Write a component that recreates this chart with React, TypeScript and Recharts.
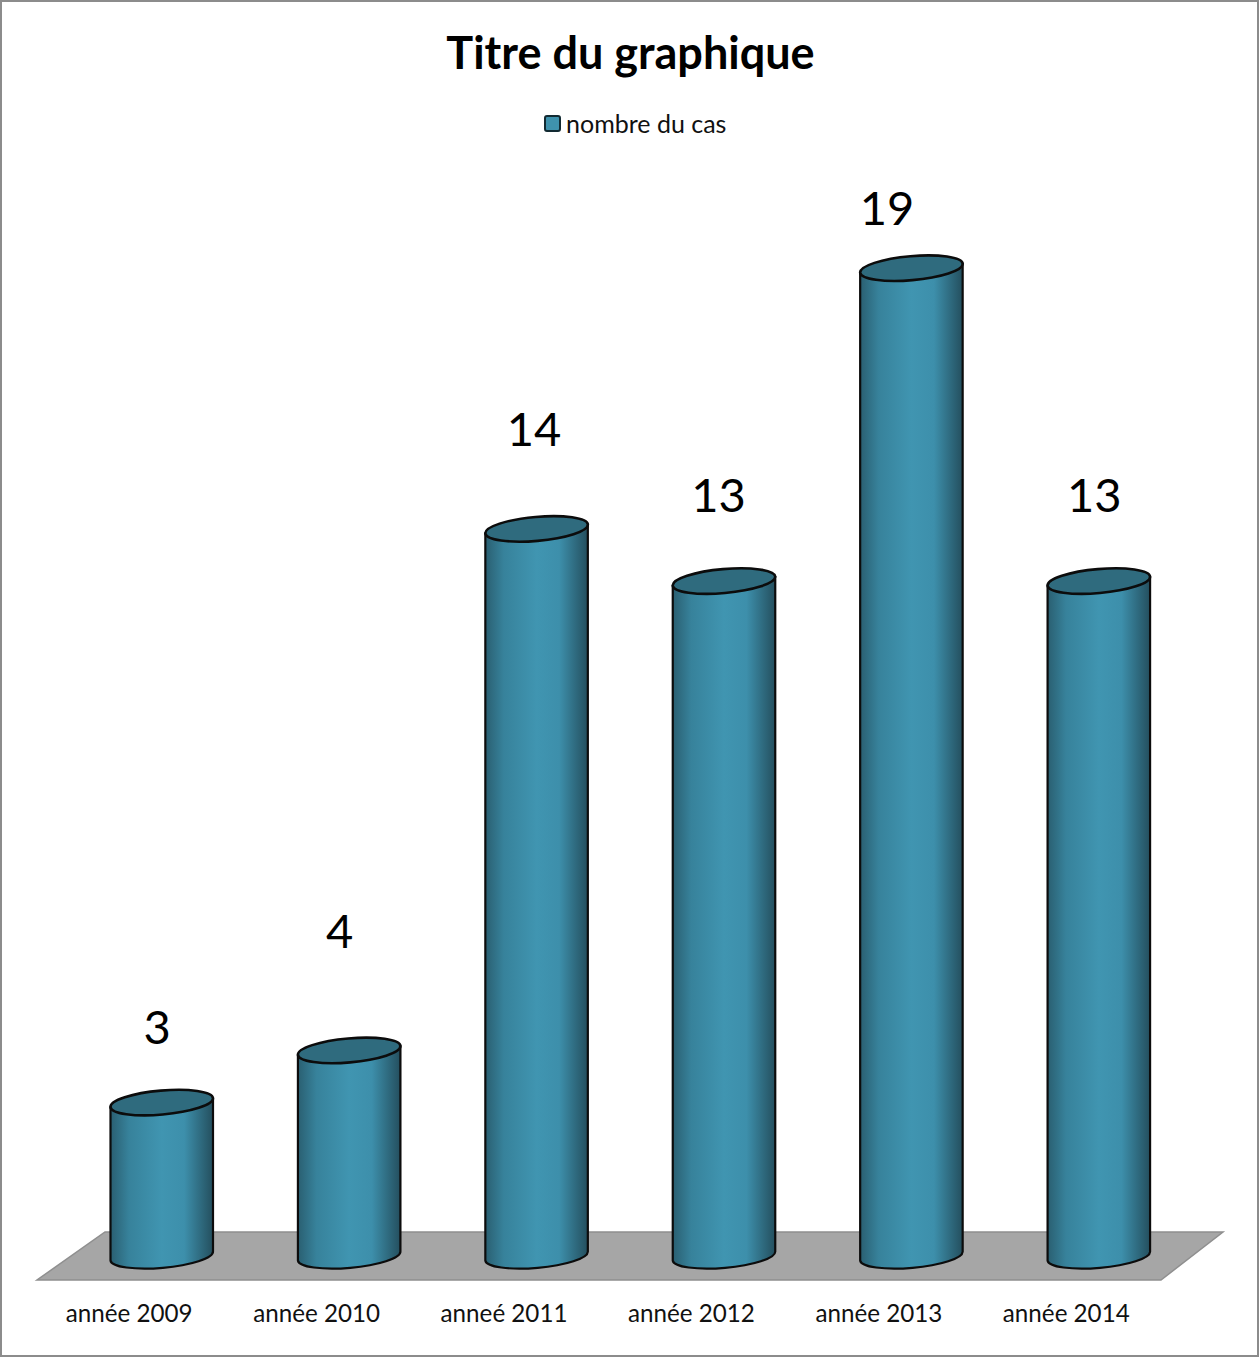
import { BarChart, Bar, XAxis, YAxis, LabelList, Legend } from "recharts"

const years = ["année 2009", "année 2010", "anneé 2011", "année 2012", "année 2013", "année 2014"]
const cases = [3, 4, 14, 13, 19, 13]

// hand-placed value labels, relative to the top of each cylinder
const labelShiftX = [-4.5, -9.5, -2.5, -5.5, -24.5, -4.5]
const labelShiftY = [-59, -102, -83, -69, -43, -69]

const FONT = "Lato, 'Open Sans', sans-serif"
const chartData = years.map((year, i) => ({ year, cases: cases[i] }))

function Cylinder({ x, y, width, height }: any) {
  const rx = width / 2 + 0.2
  const cx = x + width / 2
  const base = y + height - 3
  const tilt = 4.5
  const body = `M${x},${y + tilt} L${x},${base + tilt} A${rx},12 -5 0 0 ${x + width},${base - tilt} L${x + width},${y - tilt} Z`
  return (
    <g>
      <path d={body} fill="url(#cylinderSide)" stroke="#0c0c0c" strokeWidth={2.2} strokeLinejoin="round" />
      <ellipse cx={cx} cy={y} rx={rx} ry={12} transform={`rotate(-5 ${cx} ${y})`} fill="#2f6b7e" stroke="#0c0c0c" strokeWidth={2.6} />
    </g>
  )
}

function YearTick({ x, y, payload }: any) {
  return (
    <text x={x - 33} y={y} dy={55} textAnchor="middle" fontFamily={FONT} fontSize={24.2} fill="#111">
      {payload.value}
    </text>
  )
}

function CaseLabel({ x, y, width, index, value }: any) {
  return (
    <text
      x={x + width / 2 + labelShiftX[index]}
      y={y + labelShiftY[index]}
      textAnchor="middle"
      fontFamily={FONT}
      fontSize={47}
      fill="#000"
    >
      {value}
    </text>
  )
}

function LegendBox() {
  return (
    <div style={{ display: "flex", alignItems: "center", fontFamily: FONT, fontSize: 25, color: "#111", lineHeight: "28px" }}>
      <span
        style={{
          width: 13,
          height: 13,
          marginRight: 5,
          background: "#3f92ad",
          border: "2.5px solid #122a32",
          borderRadius: 3,
        }}
      />
      nombre du cas
    </div>
  )
}

export default function App() {
  return (
    <div style={{ position: "absolute", left: 0, top: 0, width: 1259, height: 1358, background: "#fff" }}>
      <BarChart width={1259} height={1358} data={chartData} margin={{ top: 216, right: 66, bottom: 39, left: 68.5 }}>
        <defs>
          <linearGradient id="cylinderSide" x1="0" y1="0" x2="1" y2="0">
            <stop offset="0%" stopColor="#2a5f71" />
            <stop offset="18%" stopColor="#37829b" />
            <stop offset="50%" stopColor="#4095b1" />
            <stop offset="72%" stopColor="#3d8fab" />
            <stop offset="100%" stopColor="#244f5e" />
          </linearGradient>
        </defs>
        <rect x={1} y={1} width={1257} height={1355} fill="none" stroke="#8c8c8c" strokeWidth={2} />
        <polygon points="37,1280 1161,1280 1223,1232 105,1232" fill="#a6a6a6" stroke="#8f8f8f" strokeWidth={1.5} />
        <text x={630.5} y={69} textAnchor="middle" fontFamily={FONT} fontWeight={700} fontSize={45} fill="#000">
          Titre du graphique
        </text>
        <XAxis dataKey="year" height={60} axisLine={false} tickLine={false} tick={<YearTick />} interval={0} />
        <YAxis hide domain={[0, 20]} />
        <Legend
          verticalAlign="middle"
          align="center"
          content={<LegendBox />}
          wrapperStyle={{ position: "absolute", left: 544, top: 109, width: "auto" }}
        />
        <Bar dataKey="cases" name="nombre du cas" barSize={102.5} shape={<Cylinder />} isAnimationActive={false}>
          <LabelList dataKey="cases" content={<CaseLabel />} />
        </Bar>
      </BarChart>
    </div>
  )
}
